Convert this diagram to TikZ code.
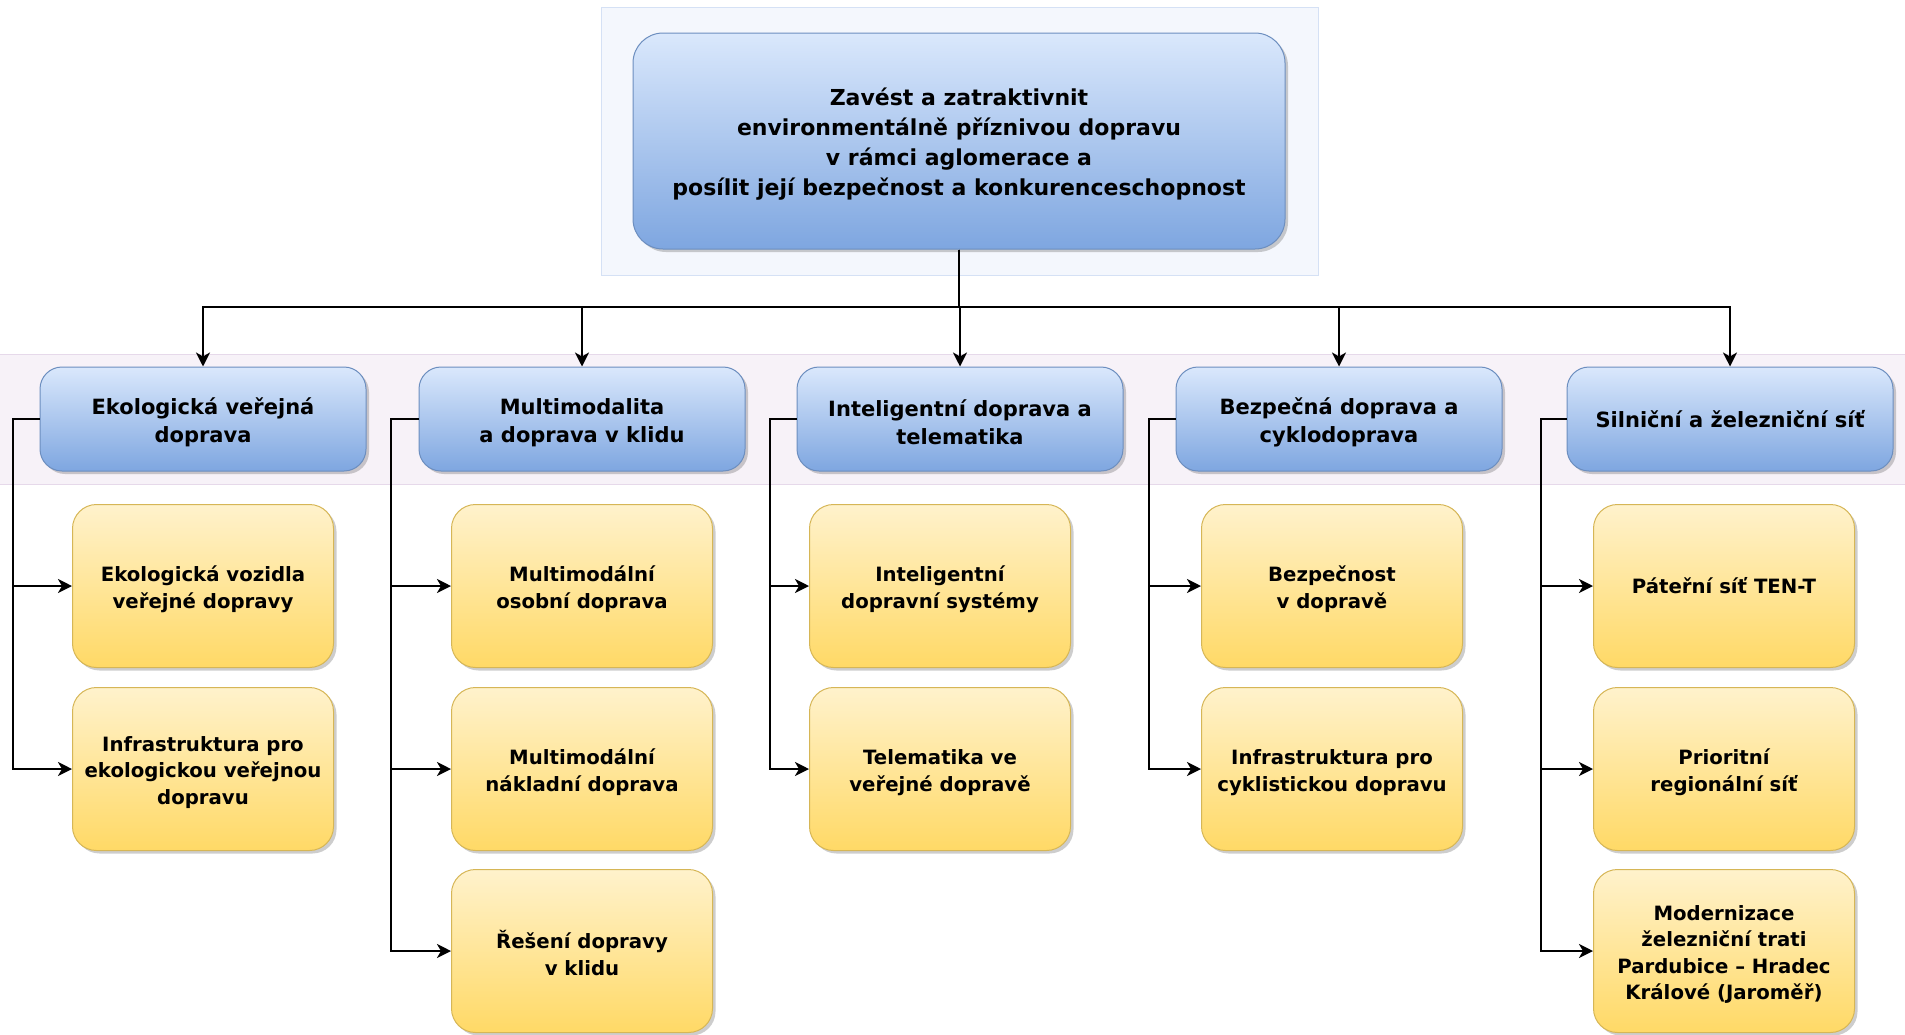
\documentclass[tikz,border=0pt]{standalone}
\usepackage{fontspec}
\setmainfont{DejaVu Sans}
\usetikzlibrary{arrows.meta,shadows}
\definecolor{blueTop}{HTML}{DAE8FC}
\definecolor{blueBot}{HTML}{7EA6E0}
\definecolor{blueStroke}{HTML}{6C8EBF}
\definecolor{yelTop}{HTML}{FFF2CC}
\definecolor{yelBot}{HTML}{FFD966}
\definecolor{yelStroke}{HTML}{D6B656}
\definecolor{topBgFill}{HTML}{F4F7FD}
\definecolor{topBgStroke}{HTML}{D5E1F5}
\definecolor{bandFill}{HTML}{F7F2F8}
\definecolor{bandStroke}{HTML}{E6D9EA}
\newcommand\tup{\rule{0pt}{1.12em}}
\begin{document}
\begin{tikzpicture}[x=1pt,y=-1pt,
  shad/.style={drop shadow={shadow xshift=3pt,shadow yshift=-3pt,opacity=0.28,fill=black!70}},
  topbox/.style={draw=blueStroke,line width=1pt,top color=blueTop,bottom color=blueBot,rounded corners=30pt,
     minimum width=652pt,minimum height=216pt,align=center,inner sep=0pt,
     font=\fontsize{22}{30}\selectfont\bfseries,shad},
  midbox/.style={draw=blueStroke,line width=1pt,top color=blueTop,bottom color=blueBot,rounded corners=22pt,
     minimum width=326pt,minimum height=104pt,align=center,inner sep=0pt,
     font=\fontsize{21}{27.7}\selectfont\bfseries,shad},
  leafbox/.style={draw=yelStroke,line width=1pt,top color=yelTop,bottom color=yelBot,rounded corners=24pt,
     minimum width=261pt,minimum height=163pt,align=center,inner sep=0pt,
     font=\fontsize{19.7}{26.5}\selectfont\bfseries,shad},
  conn/.style={draw=black,line width=2.8pt},
  arr/.style={conn,-{Stealth[length=14pt,width=14pt,inset=4pt]}}
]
\useasboundingbox (0,0) rectangle (1905,1034);
% backgrounds
\draw[draw=topBgStroke,fill=topBgFill,line width=1pt] (601,7) rectangle (1318,275);
\draw[draw=bandStroke,fill=bandFill,line width=1pt] (-2,354) rectangle (1907,484);

% top node
\node[topbox] (top) at (959,141) {\tup Zavést a zatraktivnit\\environmentálně příznivou dopravu\\v rámci aglomerace a\\posílit její bezpečnost a konkurenceschopnost};

% level 2
\node[midbox] (p1) at (203,419) {\tup Ekologická veřejná\\doprava};
\node[midbox] (p2) at (582,419) {\tup Multimodalita\\a doprava v klidu};
\node[midbox] (p3) at (960,419) {\tup Inteligentní doprava a\\telematika};
\node[midbox] (p4) at (1339,419) {\tup Bezpečná doprava a\\cyklodoprava};
\node[midbox] (p5) at (1730,419) {Silniční a železniční síť};

% level 3
\node[leafbox] (c11) at (203,586) {\tup Ekologická vozidla\\veřejné dopravy};
\node[leafbox] (c12) at (203,769) {\tup Infrastruktura pro\\ekologickou veřejnou\\dopravu};
\node[leafbox] (c21) at (582,586) {\tup Multimodální\\osobní doprava};
\node[leafbox] (c22) at (582,769) {\tup Multimodální\\nákladní doprava};
\node[leafbox] (c23) at (582,951) {\tup Řešení dopravy\\v klidu};
\node[leafbox] (c31) at (940,586) {\tup Inteligentní\\dopravní systémy};
\node[leafbox] (c32) at (940,769) {\tup Telematika ve\\veřejné dopravě};
\node[leafbox] (c41) at (1332,586) {\tup Bezpečnost\\v dopravě};
\node[leafbox] (c42) at (1332,769) {\tup Infrastruktura pro\\cyklistickou dopravu};
\node[leafbox] (c51) at (1724,586) {Páteřní síť TEN-T};
\node[leafbox] (c52) at (1724,769) {\tup Prioritní\\regionální síť};
\node[leafbox] (c53) at (1724,951) {\tup Modernizace\\železniční trati\\Pardubice -- Hradec\\Králové (Jaroměř)};

% bus coordinates
\coordinate (busy) at (0,307);
\coordinate (b1) at (13,0);
\coordinate (b2) at (391,0);
\coordinate (b3) at (770,0);
\coordinate (b4) at (1149,0);
\coordinate (b5) at (1541,0);

% top connectors
\foreach \p in {p1,p2,p3,p4,p5}{
  \draw[arr] (top.south) -- (top.south |- busy) -| (\p.north);
}

% child connectors
\draw[arr] (p1.west) -- (p1.west -| b1) |- (c11.west);
\draw[arr] (p1.west) -- (p1.west -| b1) |- (c12.west);
\draw[arr] (p2.west) -- (p2.west -| b2) |- (c21.west);
\draw[arr] (p2.west) -- (p2.west -| b2) |- (c22.west);
\draw[arr] (p2.west) -- (p2.west -| b2) |- (c23.west);
\draw[arr] (p3.west) -- (p3.west -| b3) |- (c31.west);
\draw[arr] (p3.west) -- (p3.west -| b3) |- (c32.west);
\draw[arr] (p4.west) -- (p4.west -| b4) |- (c41.west);
\draw[arr] (p4.west) -- (p4.west -| b4) |- (c42.west);
\draw[arr] (p5.west) -- (p5.west -| b5) |- (c51.west);
\draw[arr] (p5.west) -- (p5.west -| b5) |- (c52.west);
\draw[arr] (p5.west) -- (p5.west -| b5) |- (c53.west);
\end{tikzpicture}
\end{document}
